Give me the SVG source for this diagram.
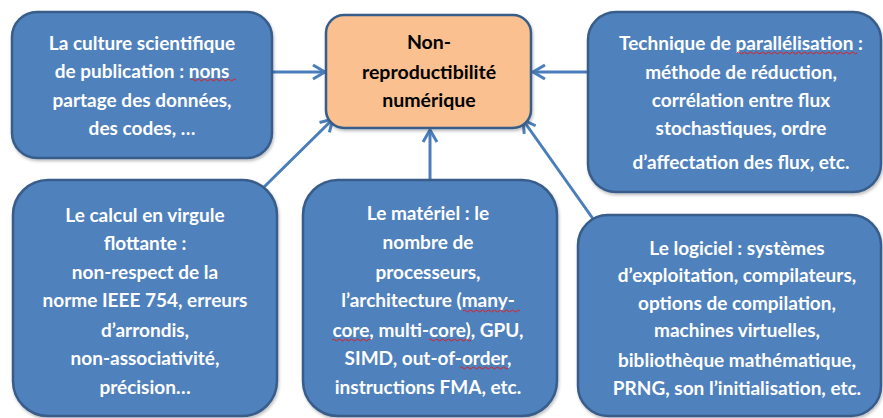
<svg xmlns="http://www.w3.org/2000/svg" width="883" height="418" viewBox="0 0 883 418">
<style>
.box{fill:#4F81BD;stroke:#385D8A;stroke-width:2.5;filter:url(#sh)}
.core{fill:#FAC090;stroke:#385D8A;stroke-width:2.5;filter:url(#sh)}
.t{font-family:Lato,"Open Sans",sans-serif;font-weight:bold;font-size:19px;fill:#FFFFFF;text-anchor:middle}
.tc{font-family:Lato,"Open Sans",sans-serif;font-weight:bold;font-size:19.5px;fill:#000000;text-anchor:middle}
.c{stroke:#4A7EBB;stroke-width:3;fill:none;marker-end:url(#ah)}
.sp{stroke:#E02020;stroke-width:1;fill:none}
</style>
<defs>
<filter id="sh" x="-10%" y="-10%" width="120%" height="120%">
<feDropShadow dx="1" dy="2" stdDeviation="1.5" flood-color="#000" flood-opacity="0.25"/>
</filter>
<marker id="ah" markerUnits="userSpaceOnUse" markerWidth="20" markerHeight="20" refX="15" refY="8" orient="auto" viewBox="0 0 20 16">
<path d="M3,1 L15,8 L3,15" fill="none" stroke="#4A7EBB" stroke-width="3"/>
</marker>
</defs>
<g id="connectors">
<line class="c" x1="272" y1="72" x2="325" y2="72"/>
<line class="c" x1="589" y1="72" x2="533" y2="72"/>
<line class="c" x1="262" y1="189" x2="333" y2="119"/>
<line class="c" x1="430" y1="180" x2="430" y2="130"/>
<line class="c" x1="596" y1="223" x2="523" y2="120"/>
</g>
<g id="n1">
<rect class="box" x="12" y="12" width="260" height="146" rx="25"/>
<text class="t" x="142"><tspan x="142" y="50">La culture scientifique</tspan><tspan x="142" y="78">de publication : nons</tspan><tspan x="142" y="107">partage des données,</tspan><tspan x="142" y="135">des codes, …</tspan></text>
<path class="sp" d="M191,80 q1.5,-2 3,0 t3,0 t3,0 t3,0 t3,0 t3,0 t3,0 t3,0 t3,0 t3,0 t3,0 t3,0 t3,0 t3,0 t3,0"/>
</g>
<g id="center">
<rect class="core" x="326" y="15" width="205" height="113" rx="18"/>
<text class="tc" x="429"><tspan x="429" y="49">Non-</tspan><tspan x="429" y="79">reproductibilité</tspan><tspan x="429" y="107">numérique</tspan></text>
</g>
<g id="n3">
<rect class="box" x="588" y="12" width="293" height="180" rx="28"/>
<text class="t" x="741"><tspan x="741" y="50">Technique de parallélisation :</tspan><tspan x="741" y="79">méthode de réduction,</tspan><tspan x="741" y="107">corrélation entre flux</tspan><tspan x="741" y="135">stochastiques, ordre</tspan><tspan x="741" y="169">d’affectation des flux, etc.</tspan></text>
<path class="sp" d="M737,53 q1.5,-2 3,0 t3,0 t3,0 t3,0 t3,0 t3,0 t3,0 t3,0 t3,0 t3,0 t3,0 t3,0 t3,0 t3,0 t3,0 t3,0 t3,0 t3,0 t3,0 t3,0 t3,0 t3,0 t3,0 t3,0 t3,0 t3,0 t3,0 t3,0 t3,0 t3,0 t3,0 t3,0 t3,0 t3,0 t3,0 t3,0 t3,0 t3,0 t3,0 t3,0"/>
</g>
<g id="n4">
<rect class="box" x="13" y="180" width="264" height="236" rx="35"/>
<text class="t" x="145"><tspan x="145" y="222">Le calcul en virgule</tspan><tspan x="145" y="250">flottante :</tspan><tspan x="145" y="279">non-respect de la</tspan><tspan x="145" y="307">norme IEEE 754, erreurs</tspan><tspan x="145" y="337">d’arrondis,</tspan><tspan x="145" y="365">non-associativité,</tspan><tspan x="145" y="394">précision…</tspan></text>
</g>
<g id="n5">
<rect class="box" x="303" y="180" width="254" height="236" rx="35"/>
<text class="t" x="428"><tspan x="428" y="220">Le matériel : le</tspan><tspan x="428" y="249">nombre de</tspan><tspan x="428" y="279">processeurs,</tspan><tspan x="428" y="307">l’architecture (many-</tspan><tspan x="428" y="337">core, multi-core), GPU,</tspan><tspan x="428" y="365">SIMD, out-of-order,</tspan><tspan x="428" y="394">instructions FMA, etc.</tspan></text>
<path class="sp" d="M463,311 q1.5,-2 3,0 t3,0 t3,0 t3,0 t3,0 t3,0 t3,0 t3,0 t3,0 t3,0 t3,0 t3,0 t3,0 t3,0 t3,0 t3,0 t3,0 t3,0 t3,0"/>
<path class="sp" d="M332,340 q1.5,-2 3,0 t3,0 t3,0 t3,0 t3,0 t3,0 t3,0 t3,0 t3,0 t3,0 t3,0 t3,0 t3,0"/>
<path class="sp" d="M429,340 q1.5,-2 3,0 t3,0 t3,0 t3,0 t3,0 t3,0 t3,0 t3,0 t3,0 t3,0 t3,0 t3,0 t3,0 t3,0"/>
<path class="sp" d="M460,368 q1.5,-2 3,0 t3,0 t3,0 t3,0 t3,0 t3,0 t3,0 t3,0 t3,0 t3,0 t3,0 t3,0 t3,0 t3,0 t3,0 t3,0"/>
</g>
<g id="n6">
<rect class="box" x="578" y="215" width="303" height="201" rx="30"/>
<text class="t" x="737"><tspan x="737" y="255">Le logiciel : systèmes</tspan><tspan x="737" y="282">d’exploitation, compilateurs,</tspan><tspan x="737" y="310">options de compilation,</tspan><tspan x="737" y="337">machines virtuelles,</tspan><tspan x="737" y="367">bibliothèque mathématique,</tspan><tspan x="737" y="395">PRNG, son l’initialisation, etc.</tspan></text>
</g>
</svg>
